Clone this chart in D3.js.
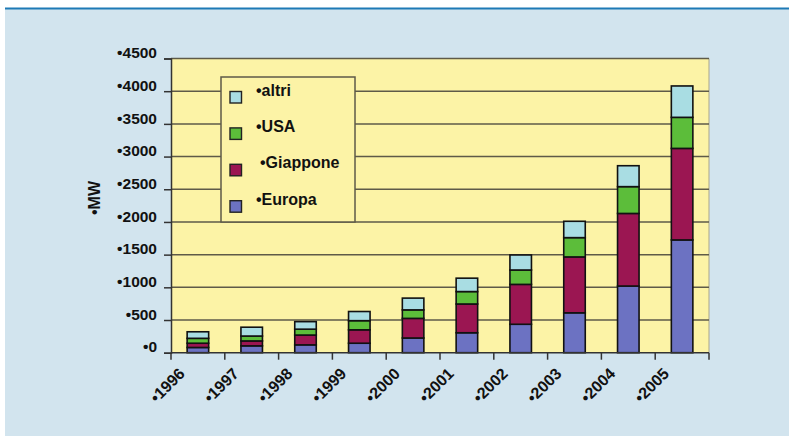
<!DOCTYPE html>
<html>
<head>
<meta charset="utf-8">
<script src="https://cdn.jsdelivr.net/npm/d3@7"></script>
<style>
  html, body { margin: 0; padding: 0; background: #ffffff; }
  svg { display: block; }
  text { font-family: "Liberation Sans", Arial, sans-serif; font-weight: bold; fill: #111; }
</style>
</head>
<body>
<svg id="chart" width="789" height="436"></svg>
<script>
// Years on the category axis
const years = ["1996", "1997", "1998", "1999", "2000", "2001", "2002", "2003", "2004", "2005"];

// Installed power per region (MW), stacked bottom to top
const europa   = [80, 105, 120, 145, 225, 305, 435, 610, 1020, 1725];
const giappone = [65, 75, 150, 205, 300, 440, 610, 855, 1110, 1400];
const usa      = [75, 75, 90, 140, 130, 190, 220, 295, 410, 475];
const altri    = [100, 135, 115, 140, 180, 205, 230, 250, 320, 480];

const seriesNames = ["Europa", "Giappone", "USA", "altri"];
const seriesColors = ["#6c72c2", "#9b1652", "#5cbd3a", "#a9dde3"];

// Value axis ticks
const yTicks = [0, 500, 1000, 1500, 2000, 2500, 3000, 3500, 4000, 4500];

const svg = d3.select("#chart");
const W = 789, H = 436;

// Framed background panel with a rule along the top
svg.append("rect").attr("x", 5).attr("y", 9).attr("width", W - 5).attr("height", H - 9).attr("fill", "#d2e4ee");
svg.append("line").attr("x1", 5).attr("x2", W).attr("y1", 8.5).attr("y2", 8.5)
  .attr("stroke", "#1e7ab6").attr("stroke-width", 2);

const plot = { left: 171, right: 709, top: 58.5, bottom: 352.7 };

const x = d3.scaleBand().domain(years).range([plot.left, plot.right]).padding(0);
const y = d3.scaleLinear().domain([0, 4500]).range([plot.bottom, plot.top]);

// Plot area
svg.append("rect")
  .attr("x", plot.left).attr("y", plot.top)
  .attr("width", plot.right - plot.left).attr("height", plot.bottom - plot.top)
  .attr("fill", "#fcf3a6");
svg.append("line")
  .attr("x1", plot.right).attr("x2", plot.right)
  .attr("y1", plot.top).attr("y2", plot.bottom)
  .attr("stroke", "#a9a58c").attr("stroke-width", 1);

// Horizontal gridlines
svg.append("g").selectAll("line").data(yTicks.filter(d => d > 0)).join("line")
  .attr("x1", plot.left).attr("x2", plot.right)
  .attr("y1", d => y(d)).attr("y2", d => y(d))
  .attr("stroke", "#5e5a48").attr("stroke-width", 1.5);

// Stacked bars
const table = years.map((yr, i) => ({
  year: yr, Europa: europa[i], Giappone: giappone[i], USA: usa[i], altri: altri[i]
}));
const stacked = d3.stack().keys(seriesNames)(table);
const barW = x.bandwidth() * 0.4;
const barOff = (x.bandwidth() - barW) / 2;

svg.append("g").selectAll("g").data(stacked).join("g")
  .attr("fill", (d, i) => seriesColors[i])
  .selectAll("rect").data(d => d).join("rect")
  .attr("x", d => x(d.data.year) + barOff)
  .attr("y", d => y(d[1]))
  .attr("width", barW)
  .attr("height", d => y(d[0]) - y(d[1]))
  .attr("stroke", "#111").attr("stroke-width", 1.6);

// Value axis
const yAxis = svg.append("g")
  .attr("transform", `translate(${plot.left},0)`)
  .call(d3.axisLeft(y).tickValues(yTicks).tickSize(7).tickFormat(d => "•" + d));
yAxis.select(".domain").attr("stroke", "#333").attr("stroke-width", 1.5);
yAxis.selectAll(".tick line").attr("stroke", "#333").attr("stroke-width", 1.5);
yAxis.selectAll(".tick text")
  .attr("x", -14).attr("dy", "-0.05em")
  .style("font-size", "15.5px").style("font-weight", "bold")
  .style("font-family", "'Liberation Sans', Arial, sans-serif").attr("fill", "#111");

// Category axis: baseline, boundary ticks and slanted labels
svg.append("line")
  .attr("x1", plot.left).attr("x2", plot.right)
  .attr("y1", plot.bottom).attr("y2", plot.bottom)
  .attr("stroke", "#333").attr("stroke-width", 1.5);
const bounds = years.map(d => x(d)).concat([plot.right]);
svg.append("g").selectAll("line").data(bounds).join("line")
  .attr("x1", d => d).attr("x2", d => d)
  .attr("y1", plot.bottom).attr("y2", plot.bottom + 7)
  .attr("stroke", "#333").attr("stroke-width", 1.5);
svg.append("g").selectAll("text").data(years).join("text")
  .attr("transform", d => `translate(${x(d) + 7},${plot.bottom + 14}) rotate(-45)`)
  .attr("text-anchor", "end")
  .attr("dy", "0.7em")
  .style("font-size", "16px")
  .text(d => "•" + d);

// Axis title
svg.append("text")
  .attr("transform", `translate(100,198) rotate(-90)`)
  .attr("text-anchor", "middle")
  .style("font-size", "16px")
  .text("•MW");

// Legend (top series listed first)
const legend = svg.append("g");
legend.append("rect")
  .attr("x", 221).attr("y", 77).attr("width", 134).attr("height", 145)
  .attr("fill", "#fcf3a6").attr("stroke", "#5e5a48").attr("stroke-width", 1.5);
const legendOrder = [3, 2, 1, 0];
const legendTextX = [256, 256, 260, 256];
legendOrder.forEach((si, k) => {
  const cy = 97 + k * 36.4;
  legend.append("rect")
    .attr("x", 230).attr("y", cy - 5.5).attr("width", 11.5).attr("height", 11.5)
    .attr("fill", seriesColors[si]).attr("stroke", "#222").attr("stroke-width", 1.4);
  legend.append("text")
    .attr("x", legendTextX[k]).attr("y", cy - 7).attr("dy", "0.35em")
    .style("font-size", "16px")
    .text("•" + seriesNames[si]);
});
</script>
</body>
</html>
